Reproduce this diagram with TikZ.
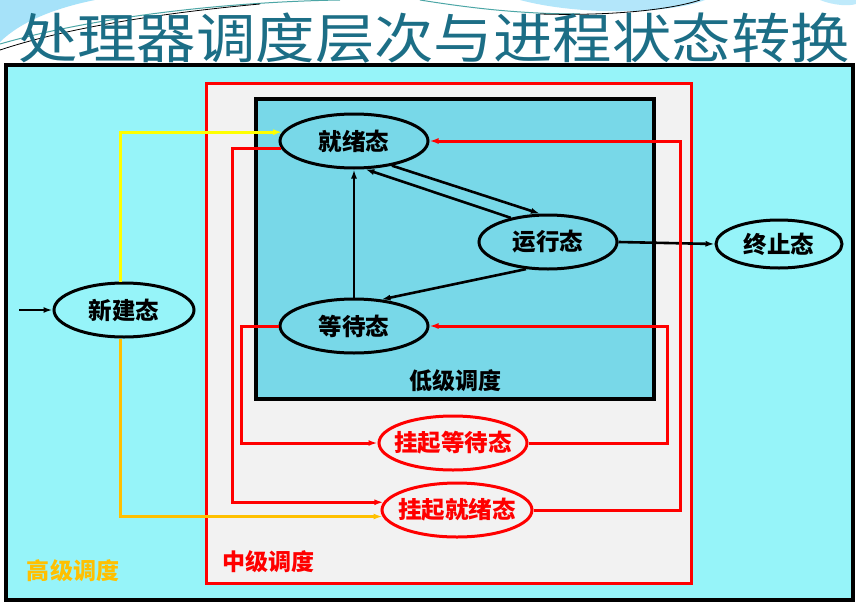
\documentclass[tikz,border=0pt]{standalone}
\usepackage{fontspec}
\newfontfamily\cjk{Noto Sans CJK SC}
\usetikzlibrary{shapes.geometric,arrows.meta}
\definecolor{outerfill}{HTML}{96F4F9}
\definecolor{innerfill}{HTML}{78D8E8}
\definecolor{midfill}{HTML}{F2F2F2}
\definecolor{titlecol}{HTML}{1C6E86}
\definecolor{hiorange}{HTML}{FFC000}
\definecolor{hiyellow}{HTML}{FFFF00}
\definecolor{redc}{HTML}{FF0000}
\tikzset{
  state/.style={ellipse, draw=black, line width=3pt, inner sep=0pt,
    font=\cjk\bfseries\fontsize{23.5}{24}\selectfont},
  redstate/.style={ellipse, draw=redc, line width=3pt, inner ysep=0pt, inner xsep=-9pt, text=redc,
    font=\cjk\bfseries\fontsize{23.5}{24}\selectfont},
  blk/.style={draw=black, line width=2.6pt, -{Latex[length=9pt,width=6pt]}},
  redln/.style={draw=redc, line width=3pt, -{Latex[length=9pt,width=6pt]}},
  yelln/.style={draw=hiyellow, line width=3pt, -{Latex[length=9pt,width=6pt]}},
  orgln/.style={draw=hiorange, line width=3pt, -{Latex[length=9pt,width=6pt]}},
  lbl/.style={font=\cjk\bfseries\fontsize{23}{23}\selectfont, inner sep=0pt}
}
\begin{document}
\begin{tikzpicture}[x=1pt,y=-1pt]
\useasboundingbox (0,0) rectangle (856,602);
\fill[white] (0,0) rectangle (856,602);
% decorations
\fill[cyan!35] (0,0) -- (95,0) .. controls (55,8) and (20,22) .. (0,42) -- cycle;
\draw[teal!70, line width=1pt] (0,44) .. controls (90,18) and (220,2) .. (340,0);
\draw[black, line width=0.8pt] (0,50) .. controls (60,30) and (150,14) .. (260,4);
\fill[cyan!30] (520,0) .. controls (580,16) and (670,14) .. (705,0) -- cycle;
\draw[teal!70, line width=1pt] (420,0) .. controls (470,8) and (520,14) .. (580,14);
\draw[black, line width=0.8pt] (540,14) .. controls (610,16) and (670,10) .. (700,0);
\fill[cyan!25] (820,0) .. controls (835,6) and (850,6) .. (856,4) -- (856,0) -- cycle;
% title
\node[inner sep=0pt, text=titlecol, xscale=1.1, font=\cjk\fontsize{54}{54}\selectfont] (title) at (434,38) {处理器调度层次与进程状态转换};
% boxes
\draw[fill=outerfill, draw=black, line width=3.5pt] (6,65) rectangle (853,600);
\draw[fill=midfill, draw=redc, line width=3pt] (206,83) rectangle (691,583);
\draw[fill=innerfill, draw=black, line width=3.5pt] (256,99) rectangle (654,399);
% labels
\node[lbl] (low) at (455,381) {低级调度};
\node[lbl, text=redc] (mid) at (268,562) {中级调度};
\node[lbl, text=hiorange] (high) at (73,571) {高级调度};
% states
\node[state, minimum width=148pt, minimum height=54pt] (rdy) at (354,141) {就绪态};
\node[state, minimum width=138pt, minimum height=54pt] (run) at (548,242) {运行态};
\node[state, minimum width=148pt, minimum height=54pt] (wait) at (354,326) {等待态};
\node[state, minimum width=126pt, minimum height=48pt] (term) at (779,244) {终止态};
\node[state, minimum width=140pt, minimum height=54pt] (new) at (124,310) {新建态};
\node[redstate, minimum width=148pt, minimum height=54pt] (swait) at (453,443) {挂起等待态};
\node[redstate, minimum width=150pt, minimum height=54pt] (srdy) at (457,510) {挂起就绪态};
\coordinate (entry) at (19,310);
% black connectors
\draw[blk] (entry) -- (new.west);
\draw[blk] (rdy.-33) -- (run.106);
\draw[blk] (run.147) -- (rdy.292);
\draw[blk] (run.231) -- (wait.44);
\draw[blk] (wait.north) -- (rdy.south);
\draw[blk] (run.east) -- (term.west);
% high-level
\draw[yelln] ([xshift=-4pt]new.north) |- (rdy.173.5);
\draw[orgln] ([xshift=-4pt]new.south) |- (srdy.185.5);
% mid-level
\draw[redln] (rdy.186.5) -- ++(-49,0) |- (srdy.174.5);
\draw[redln] (wait.west) -- ++(-37,0) |- (swait.west);
\draw[redln] (swait.east) -| (667,326) -- (wait.east);
\draw[redln] (srdy.east) -| (680,141) -- (rdy.east);
\end{tikzpicture}
\end{document}
